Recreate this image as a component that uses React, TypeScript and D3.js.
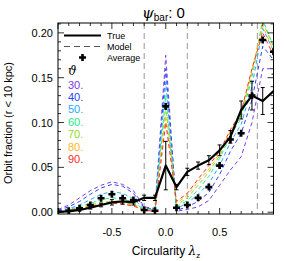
import React from "react";
import * as d3 from "d3";

const lambdaZ = [-1.0, -0.9, -0.8, -0.7, -0.6, -0.5, -0.4, -0.3, -0.2, -0.1, 0.0, 0.1, 0.2, 0.3, 0.4, 0.5, 0.6, 0.7, 0.8, 0.9, 1.0];
const trueFrac = [0.0005, 0.001, 0.0025, 0.005, 0.008, 0.011, 0.012, 0.011, 0.016, 0.016, 0.052, 0.028, 0.045, 0.052, 0.058, 0.069, 0.084, 0.114, 0.130, 0.124, 0.135];
const trueErr = [0.0003, 0.0005, 0.001, 0.0015, 0.002, 0.003, 0.003, 0.003, 0.003, 0.003, 0.027, 0.003, 0.004, 0.004, 0.005, 0.006, 0.007, 0.010, 0.016, 0.015, 0.019];
const avgFrac = [0.0005, 0.0017, 0.0043, 0.008, 0.0155, 0.020, 0.0155, 0.0136, 0.0025, 0.0017, 0.118, 0.005, 0.008, 0.016, 0.028, 0.052, 0.081, 0.088, 0.130, 0.192, 0.179];

const model30 = [0.003, 0.008, 0.016, 0.024, 0.030, 0.034, 0.031, 0.024, 0.006, 0.004, 0.175, 0.001, 0.003, 0.006, 0.013, 0.030, 0.047, 0.062, 0.100, 0.160, 0.160];
const model40 = [0.002, 0.006, 0.012, 0.020, 0.027, 0.031, 0.029, 0.021, 0.005, 0.003, 0.160, 0.002, 0.006, 0.012, 0.022, 0.042, 0.068, 0.088, 0.125, 0.185, 0.170];
const model50 = [0.001, 0.004, 0.008, 0.014, 0.020, 0.023, 0.021, 0.015, 0.004, 0.003, 0.145, 0.004, 0.010, 0.020, 0.032, 0.052, 0.078, 0.098, 0.140, 0.205, 0.180];
const model60 = [0.001, 0.003, 0.006, 0.010, 0.014, 0.016, 0.015, 0.011, 0.003, 0.002, 0.130, 0.006, 0.013, 0.025, 0.040, 0.060, 0.085, 0.105, 0.150, 0.215, 0.185];
const model70 = [0.0005, 0.002, 0.005, 0.008, 0.011, 0.012, 0.011, 0.009, 0.003, 0.002, 0.118, 0.008, 0.016, 0.030, 0.045, 0.063, 0.088, 0.108, 0.155, 0.212, 0.185];
const model80 = [0.0005, 0.002, 0.004, 0.007, 0.009, 0.010, 0.010, 0.008, 0.002, 0.002, 0.108, 0.010, 0.019, 0.034, 0.048, 0.066, 0.090, 0.110, 0.158, 0.208, 0.180];
const model90 = [0.0005, 0.002, 0.004, 0.006, 0.009, 0.010, 0.009, 0.007, 0.002, 0.001, 0.100, 0.012, 0.021, 0.037, 0.052, 0.068, 0.092, 0.112, 0.160, 0.200, 0.175];

const thetaLabels = ["30.", "40.", "50.", "60.", "70.", "80.", "90."];
const thetaColors = ["#7b3ce8", "#2c45f2", "#2aa8ff", "#1ee88c", "#8fdc1e", "#ffb81e", "#ff2a2a"];
const models = [model30, model40, model50, model60, model70, model80, model90];

const xTicksMajor = [-1, -0.5, 0, 0.5, 1];
const xTickLabels = [-0.5, 0, 0.5];
const yTicksMajor = [0, 0.05, 0.1, 0.15, 0.2];
const vLines = [-0.2, 0.2, 0.85];

const L = 58, R = 273.5, T = 23, B = 214;
const FONT = "'Liberation Sans', Arial, Helvetica, sans-serif";

export default function App() {
  const x = d3.scaleLinear().domain([-1, 1]).range([L, R]);
  const y = d3.scaleLinear().domain([-0.002, 0.211]).range([B, T]);
  const line = d3.line<number>().x((_, i) => x(lambdaZ[i])).y((d) => y(d));

  const xMinor = d3.range(-10, 11).map((k) => k / 10);
  const yMinor = d3.range(0, 22).map((k) => k / 100);
  const isMajorX = (v: number) => xTicksMajor.some((m) => Math.abs(m - v) < 1e-9);
  const isMajorY = (v: number) => yTicksMajor.some((m) => Math.abs(m - v) < 1e-9);

  const cross = "M-3.5,0H3.5M0,-3.5V3.5";

  return (
    <svg width={284} height={261} style={{ position: "absolute", left: 0, top: 0, background: "#fff" }} fontFamily={FONT}>
      <defs>
        <clipPath id="plotClip">
          <rect x={L} y={T} width={R - L} height={B - T} />
        </clipPath>
      </defs>
      <rect x={0} y={0} width={284} height={261} fill="#fff" />

      {vLines.map((v, i) => (
        <line key={"v" + i} x1={x(v)} x2={x(v)} y1={T} y2={B} stroke="#999" strokeWidth={1} strokeDasharray="6,4" />
      ))}

      <g clipPath="url(#plotClip)">
        {models.map((m, i) => (
          <path key={"m" + i} d={line(m) || ""} fill="none" stroke={thetaColors[i]} strokeWidth={1} strokeDasharray="4,3" />
        ))}
      </g>

      <g clipPath="url(#plotClip)">
        <path d={line(trueFrac) || ""} fill="none" stroke="#000" strokeWidth={2.2} strokeLinejoin="round" />
        {trueFrac.map((v, i) => {
          const cx = x(lambdaZ[i]);
          const y1 = y(v - trueErr[i]);
          const y2 = y(v + trueErr[i]);
          return (
            <g key={"e" + i} stroke="#000" strokeWidth={1}>
              <line x1={cx} x2={cx} y1={y1} y2={y2} />
              <line x1={cx - 2} x2={cx + 2} y1={y1} y2={y1} />
              <line x1={cx - 2} x2={cx + 2} y1={y2} y2={y2} />
            </g>
          );
        })}
        {avgFrac.map((v, i) => (
          <path key={"a" + i} d={cross} transform={`translate(${x(lambdaZ[i])},${y(v)})`} stroke="#000" strokeWidth={2.6} fill="none" />
        ))}
      </g>

      <rect x={L} y={T} width={R - L} height={B - T} fill="none" stroke="#000" strokeWidth={1} />

      {xMinor.map((v, i) => {
        const len = isMajorX(v) ? 6 : 3;
        return (
          <g key={"xt" + i} stroke="#000" strokeWidth={0.8}>
            <line x1={x(v)} x2={x(v)} y1={B} y2={B - len} />
            <line x1={x(v)} x2={x(v)} y1={T} y2={T + len} />
          </g>
        );
      })}
      {yMinor.map((v, i) => {
        const len = isMajorY(v) ? 6 : 3;
        return (
          <g key={"yt" + i} stroke="#000" strokeWidth={0.8}>
            <line x1={L} x2={L + len} y1={y(v)} y2={y(v)} />
            <line x1={R} x2={R - len} y1={y(v)} y2={y(v)} />
          </g>
        );
      })}

      {xTickLabels.map((v, i) => (
        <text key={"xl" + i} x={x(v)} y={236} fontSize={11} textAnchor="middle">
          {d3.format(".1f")(v).replace("−", "-")}
        </text>
      ))}
      {yTicksMajor.map((v, i) => (
        <text key={"yl" + i} x={53} y={y(v) + 4} fontSize={11} textAnchor="end">
          {d3.format(".2f")(v)}
        </text>
      ))}

      <text x={166} y={255} fontSize={12} textAnchor="middle">
        Circularity <tspan fontStyle="italic" fontFamily="'DejaVu Serif', serif">λ</tspan>
        <tspan fontSize={8} dy={3}>z</tspan>
      </text>
      <text transform="translate(12,123) rotate(-90)" fontSize={11} textAnchor="middle">
        Orbit fraction (r &lt; 10 kpc)
      </text>

      <text x={142} y={18} fontSize={15}>
        <tspan fontStyle="italic" fontFamily="'DejaVu Serif', serif">ψ</tspan>
        <tspan fontSize={10} dy={3}>bar</tspan>
        <tspan dy={-3}>: 0</tspan>
      </text>

      <line x1={64} x2={101} y1={35.5} y2={35.5} stroke="#000" strokeWidth={2.2} />
      <text x={107} y={38.5} fontSize={9}>True</text>
      <line x1={64} x2={101} y1={46.5} y2={46.5} stroke="#555" strokeWidth={1} strokeDasharray="6,4" />
      <text x={107} y={49.5} fontSize={9}>Model</text>
      <path d={cross} transform="translate(82.5,57.5)" stroke="#000" strokeWidth={2.6} fill="none" />
      <text x={107} y={60.5} fontSize={9}>Average</text>
      <text x={68} y={75} fontSize={12} fontStyle="italic" fontFamily="'DejaVu Serif', serif">ϑ</text>
      {thetaLabels.map((t, i) => (
        <text key={"tl" + i} x={68} y={88.5} dy={i * 12.4} fontSize={11} fill={thetaColors[i]}>
          {t}
        </text>
      ))}
    </svg>
  );
}
